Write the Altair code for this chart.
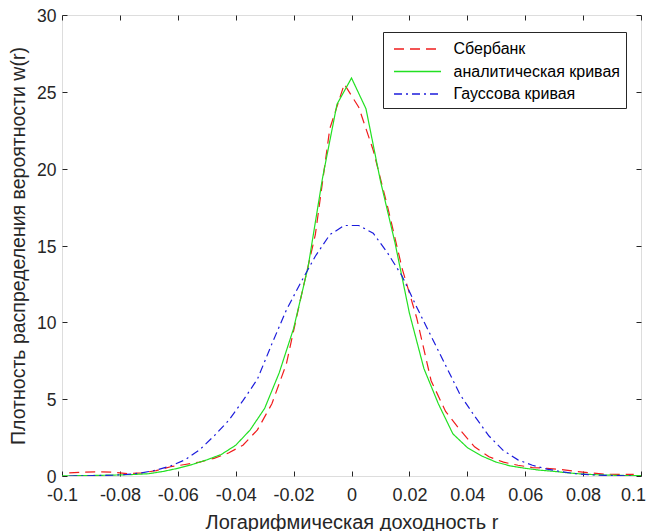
import altair as alt
import pandas as pd

series_names = ["Сбербанк", "аналитическая кривая", "Гауссова кривая"]
series_colors = ["#f01c1c", "#22e022", "#1c1cdc"]
series_dashes = [[10, 6], [1, 0], [8, 4, 2, 4]]

# bin centres (Sberbank histogram and Gaussian curve)
r_bins = [-0.0975, -0.0925, -0.0875, -0.0825, -0.0775, -0.0725, -0.0675, -0.0625,
          -0.0575, -0.0525, -0.0475, -0.0425, -0.0375, -0.0325, -0.0275, -0.0225,
          -0.0175, -0.0125, -0.0075, -0.0025, 0.0025, 0.0075, 0.0125, 0.0175,
          0.0225, 0.0275, 0.0325, 0.0375, 0.0425, 0.0475, 0.0525, 0.0575,
          0.0625, 0.0675, 0.0725, 0.0775, 0.0825, 0.0875, 0.0925, 0.0975]
w_sber = [0.2, 0.25, 0.28, 0.25, 0.15, 0.2, 0.35, 0.6,
          0.75, 0.9, 1.15, 1.5, 2.0, 3.0, 4.7, 7.3,
          11.6, 15.7, 22.6, 25.5, 24.0, 21.2, 17.5, 13.5,
          10.3, 6.2, 4.2, 3.0, 1.9, 1.25, 0.9, 0.7,
          0.55, 0.5, 0.42, 0.3, 0.2, 0.12, 0.1, 0.1]
w_gauss = [0.0, 0.01, 0.03, 0.05, 0.1, 0.2, 0.38, 0.65,
           1.05, 1.7, 2.6, 3.6, 4.9, 6.3, 8.6, 10.8,
           12.6, 14.3, 15.7, 16.3, 16.3, 15.8, 14.5, 13.0,
           11.0, 9.1, 7.2, 5.3, 3.9, 2.6, 1.65, 1.05,
           0.7, 0.45, 0.28, 0.15, 0.08, 0.04, 0.02, 0.01]

# analytic curve grid
r_analytic = [-0.1, -0.095, -0.09, -0.085, -0.08, -0.075, -0.07, -0.065, -0.06,
              -0.055, -0.05, -0.045, -0.04, -0.035, -0.03, -0.025, -0.02, -0.015,
              -0.01, -0.005, 0.0, 0.005, 0.01, 0.015, 0.02, 0.025, 0.03, 0.035,
              0.04, 0.045, 0.05, 0.055, 0.06, 0.065, 0.07, 0.075, 0.08, 0.085,
              0.09, 0.095, 0.1]
w_analytic = [0.01, 0.02, 0.03, 0.05, 0.07, 0.1, 0.15, 0.3, 0.5,
              0.75, 1.05, 1.4, 2.0, 3.0, 4.4, 6.7, 9.6, 13.6,
              19.4, 24.2, 25.9, 23.9, 19.2, 15.2, 10.6, 7.0, 4.7, 2.75,
              1.85, 1.3, 0.9, 0.65, 0.5, 0.38, 0.3, 0.2, 0.12, 0.08,
              0.05, 0.03, 0.02]

x_ticks = [-0.1, -0.08, -0.06, -0.04, -0.02, 0.0, 0.02, 0.04, 0.06, 0.08, 0.1]
y_ticks = [0, 5, 10, 15, 20, 25, 30]

x_title = "Логарифмическая доходность r"
y_title = "Плотность распределения вероятности w(r)"

rows = []
for r, w in zip(r_bins, w_sber):
    rows.append({"r": r, "w": w, "series": series_names[0]})
for r, w in zip(r_analytic, w_analytic):
    rows.append({"r": r, "w": w, "series": series_names[1]})
for r, w in zip(r_bins, w_gauss):
    rows.append({"r": r, "w": w, "series": series_names[2]})
df = pd.DataFrame(rows)

FONT = "Liberation Sans, Arial, sans-serif"
AX = "#262626"

xscale = alt.Scale(domain=[-0.1, 0.1], nice=False, zero=False)
yscale = alt.Scale(domain=[0, 30], nice=False, zero=True)

legend = alt.Legend(
    title=None, orient="none", legendX=321, legendY=17,
    strokeColor=AX, fillColor="white", padding=6, cornerRadius=0,
    labelFont=FONT, labelFontSize=16, labelColor="#000000", labelLimit=400,
    symbolType="M-2.35,0H2.35", symbolSize=400, symbolStrokeWidth=1.3,
    symbolOffset=17.5, labelOffset=25, rowPadding=3.5,
)

lines = alt.Chart(df).mark_line(strokeWidth=1.2, clip=True).encode(
    x=alt.X("r:Q", scale=xscale, axis=alt.Axis(
        orient="bottom", values=x_ticks, ticks=False, tickSize=0, domain=False,
        grid=False, labelExpr="toString(round(datum.value*100)/100)",
        labelFlush=False, labelOverlap=False,
        labelOffset={"condition": {"test": "datum.value > 0.09", "value": -8}, "value": 0},
        labelPadding=10, labelFontSize=18, labelFont=FONT, labelColor=AX,
        title=x_title, titleFont=FONT, titleFontSize=20, titleFontWeight="normal",
        titleColor=AX, titleY=52, titleBaseline="alphabetic")),
    y=alt.Y("w:Q", scale=yscale, axis=alt.Axis(
        orient="left", values=y_ticks, ticks=False, tickSize=0, domain=False,
        grid=False, format="d", labelPadding=6, labelFontSize=17.5, labelFont=FONT,
        labelFlush=False, labelOverlap=False,
        labelColor=AX, labelOffset=1.5, title=y_title, titleFont=FONT, titleFontSize=19.5,
        titleFontWeight="normal", titleColor=AX, titleAngle=270, titleX=-38,
        titleY=230.5, titleBaseline="alphabetic", titleAlign="center")),
    color=alt.Color("series:N", scale=alt.Scale(domain=series_names, range=series_colors), legend=legend),
    strokeDash=alt.StrokeDash("series:N", scale=alt.Scale(domain=series_names, range=series_dashes), legend=legend),
)


def tick_layer(xorient, yorient):
    return alt.Chart(df).mark_line(opacity=0).encode(
        x=alt.X("r:Q", scale=xscale, title="", axis=alt.Axis(
            orient=xorient, offset=-5, values=x_ticks, tickSize=5, tickColor=AX,
            tickWidth=1, labels=False, domain=False, grid=False)),
        y=alt.Y("w:Q", scale=yscale, title="", axis=alt.Axis(
            orient=yorient, offset=-5, values=y_ticks, tickSize=5, tickColor=AX,
            tickWidth=1, labels=False, domain=False, grid=False)),
        detail="series:N",
    )


chart = alt.layer(lines, tick_layer("bottom", "left"), tick_layer("top", "right")).resolve_axis(
    x="independent", y="independent"
).properties(
    width=579, height=461,
    autosize=alt.AutoSizeParams(type="none"),
    padding={"left": 54, "top": 7, "right": 5, "bottom": 56},
).configure_view(stroke=AX, strokeWidth=1).configure(font=FONT, background="white")

chart.save("out.html", embed_options={"renderer": "svg", "actions": False})
